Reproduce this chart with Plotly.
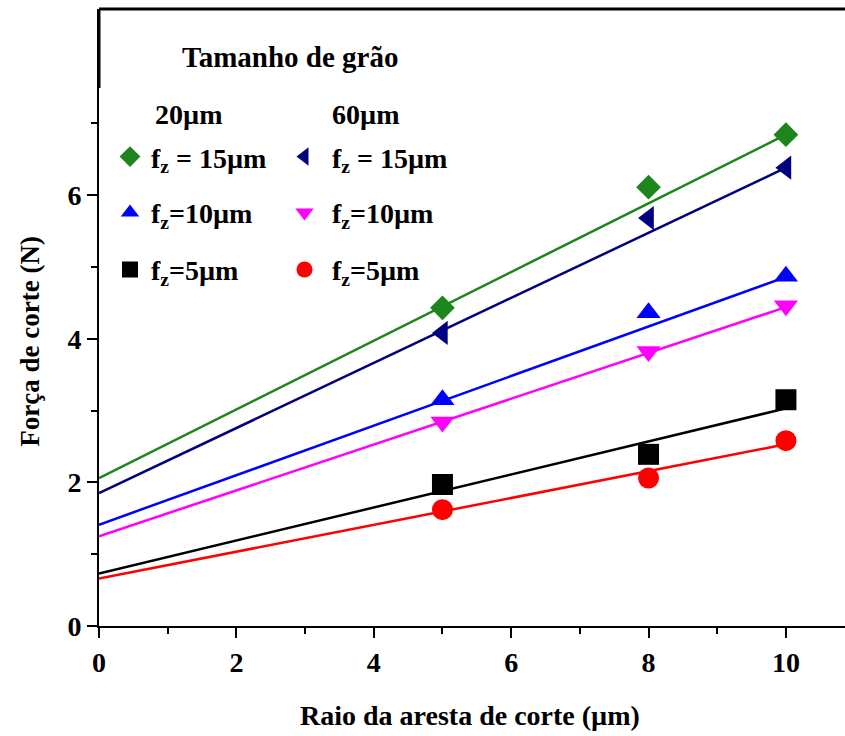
import plotly.graph_objects as go

# ---- data ----
x_pts = [5, 8, 10]
x_fit = [0, 10]

g20_f15 = [4.43, 6.11, 6.84]
g60_f15 = [4.08, 5.68, 6.38]
g20_f10 = [3.15, 4.36, 4.87]
g60_f10 = [2.84, 3.82, 4.46]
g20_f5 = [1.97, 2.39, 3.15]
g60_f5 = [1.62, 2.06, 2.58]

fit_g20_f15 = [2.06, 6.84]
fit_g60_f15 = [1.85, 6.38]
fit_g20_f10 = [1.41, 4.86]
fit_g60_f10 = [1.25, 4.44]
fit_g20_f5 = [0.73, 3.03]
fit_g60_f5 = [0.66, 2.53]

x_ticks = [0, 2, 4, 6, 8, 10]
y_ticks = [0, 2, 4, 6]

FONT = "Liberation Serif"

series = [
    # name, pts, fit, color, symbol, legend id
    ("f<sub>z</sub> = 15µm", g20_f15, fit_g20_f15, "#1c861c", "diamond", "legend"),
    ("f<sub>z</sub>=10µm", g20_f10, fit_g20_f10, "#0000ff", "triangle-up", "legend2"),
    ("f<sub>z</sub>=5µm", g20_f5, fit_g20_f5, "#000000", "square", "legend3"),
    ("f<sub>z</sub> = 15µm", g60_f15, fit_g60_f15, "#000080", "triangle-left", "legend4"),
    ("f<sub>z</sub>=10µm", g60_f10, fit_g60_f10, "#ff00ff", "triangle-down", "legend5"),
    ("f<sub>z</sub>=5µm", g60_f5, fit_g60_f5, "#ff0000", "circle", "legend6"),
]

fig = go.Figure()
for name, pts, fit, col, sym, leg in series:
    fig.add_trace(go.Scatter(x=x_fit, y=fit, mode="lines",
                             line=dict(color=col, width=2.5),
                             showlegend=False, hoverinfo="skip"))
for name, pts, fit, col, sym, leg in series:
    size = 19 if sym == "diamond" else 21
    fig.add_trace(go.Scatter(x=x_pts, y=pts, mode="markers", name=name,
                             marker=dict(color=col, symbol=sym, size=size, line=dict(width=0)),
                             legend=leg))

W, H = 845, 736
L, R, T, B = 99, 0, 9, 109.5
pw, ph = W - L - R, H - T - B


def px(xp):
    return (xp - L) / pw


def py(yp):
    return (H - B - yp) / ph


legend_font = dict(family=FONT, size=28, color="black", weight="bold")
col_x = [129, 297]
row_y = [157, 213, 270]
leg_ids = ["legend", "legend2", "legend3", "legend4", "legend5", "legend6"]
layout_legends = {}
for i, lid in enumerate(leg_ids):
    c, r = divmod(i, 3)
    layout_legends[lid] = dict(
        x=px(col_x[c] - 20), y=py(row_y[r]), xanchor="left", yanchor="middle",
        bgcolor="rgba(0,0,0,0)", borderwidth=0, font=legend_font,
        itemwidth=32 if c == 0 else 45,
    )

fig.update_layout(
    width=W, height=H,
    margin=dict(l=L, r=R, t=T, b=B),
    paper_bgcolor="white", plot_bgcolor="white",
    font=dict(family=FONT, color="black"),
    showlegend=True,
    **layout_legends,
)

tick_font = dict(family=FONT, size=28, color="black", weight="bold")
fig.update_xaxes(
    range=[0, 10.86], tickvals=x_ticks, ticktext=[str(v) for v in x_ticks],
    showline=True, linecolor="black", linewidth=2,
    ticks="outside", ticklen=10, tickwidth=2, tickcolor="black",
    minor=dict(tickvals=[1, 3, 5, 7, 9], ticks="outside", ticklen=6, tickwidth=2, tickcolor="black"),
    showgrid=False, zeroline=False, tickfont=tick_font,
)
fig.update_yaxes(
    range=[0, 8.59], tickvals=y_ticks, ticktext=[str(v) for v in y_ticks],
    showline=True, linecolor="black", linewidth=2,
    ticks="outside", ticklen=10, tickwidth=2, tickcolor="black",
    minor=dict(tickvals=[1, 3, 5, 7], ticks="outside", ticklen=6, tickwidth=2, tickcolor="black"),
    showgrid=False, zeroline=False, tickfont=tick_font,
)

fig.add_shape(type="line", xref="paper", yref="paper", x0=0, x1=1, y0=1, y1=1,
              line=dict(color="black", width=3))
fig.add_shape(type="line", xref="paper", yref="paper", x0=0, x1=0, y0=py(88), y1=1,
              line=dict(color="black", width=3))

ann_font = dict(family=FONT, size=28, color="black")
fig.add_annotation(text="<b>Tamanho de grão</b>", xref="paper", yref="paper",
                   x=px(290), y=py(57), showarrow=False, xanchor="center", yanchor="middle",
                   font=dict(family=FONT, size=29, color="black"))
fig.add_annotation(text="<b>20µm</b>", xref="paper", yref="paper",
                   x=px(153), y=py(115), showarrow=False, xanchor="left", yanchor="middle",
                   font=ann_font)
fig.add_annotation(text="<b>60µm</b>", xref="paper", yref="paper",
                   x=px(330), y=py(115), showarrow=False, xanchor="left", yanchor="middle",
                   font=ann_font)
fig.add_annotation(text="<b>Raio da aresta de corte (µm)</b>", xref="paper", yref="paper",
                   x=px(470), y=py(716), showarrow=False, xanchor="center", yanchor="middle",
                   font=ann_font)
fig.add_annotation(text="<b>Força de corte (N)</b>", xref="paper", yref="paper",
                   x=px(30), y=py(342), showarrow=False, xanchor="center", yanchor="middle",
                   textangle=-90, font=dict(family=FONT, size=27, color="black"))

fig.write_html("out.html", config={"displayModeBar": False},
               post_script="document.body.style.margin='0';document.body.style.overflow='hidden';")
